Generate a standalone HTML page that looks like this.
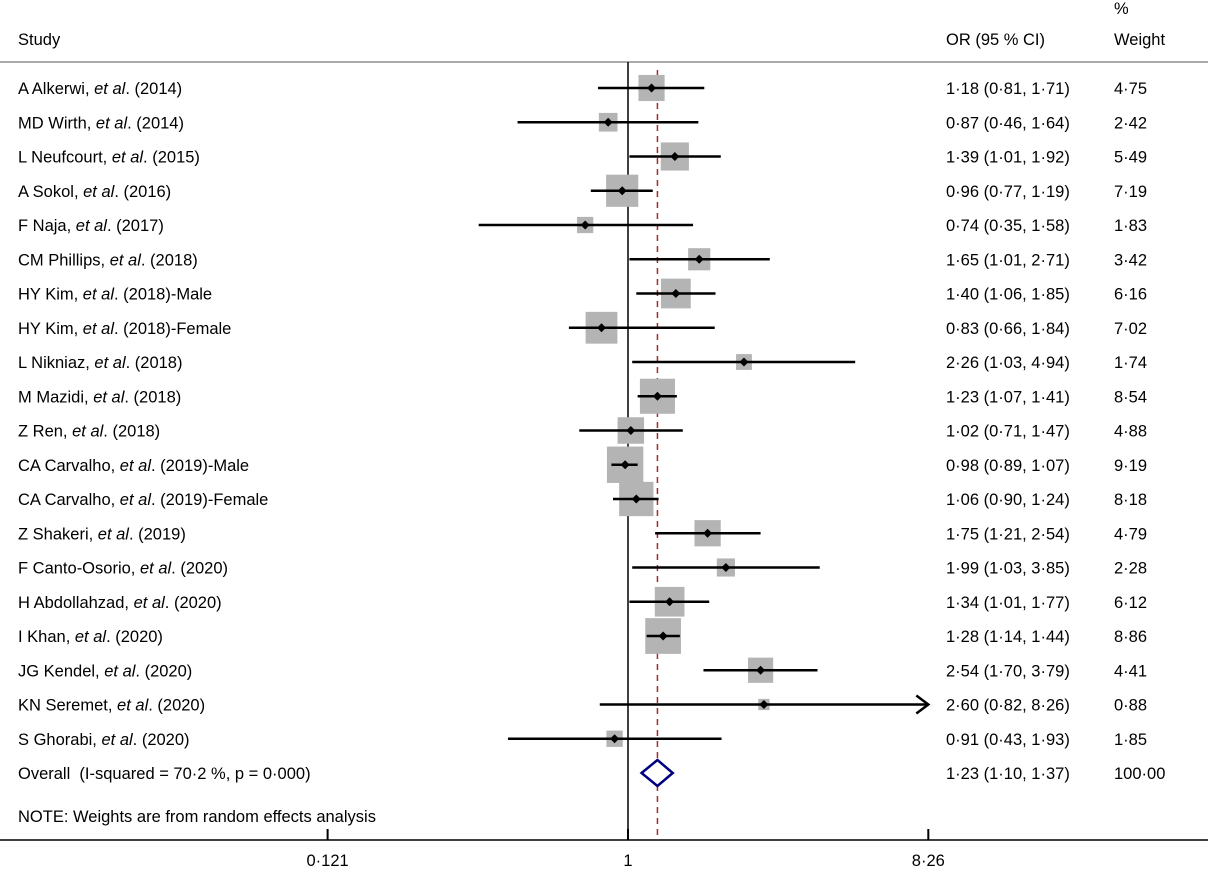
<!DOCTYPE html>
<html><head><meta charset="utf-8"><style>
body{margin:0;background:#fff;}
svg{display:block;font-family:"Liberation Sans",Arial,sans-serif;font-size:16.5px;}
</style></head><body>
<svg id="c" width="1208" height="870" xmlns="http://www.w3.org/2000/svg">
<text x="18" y="45">Study</text>
<text x="946" y="45">OR (95 % CI)</text>
<text x="1114" y="14">%</text>
<text x="1114" y="45">Weight</text>
<line x1="0" y1="62" x2="1208" y2="62" stroke="#aaa" stroke-width="2"/>
<line x1="0" y1="840" x2="1208" y2="840" stroke="#000" stroke-width="1.5"/>
<g id="marks"></g>
<text x="18" y="822">NOTE: Weights are from random effects analysis</text>
</svg>
<script>
const studies=["A Alkerwi","MD Wirth","L Neufcourt","A Sokol","F Naja","CM Phillips","HY Kim","HY Kim","L Nikniaz","M Mazidi","Z Ren","CA Carvalho","CA Carvalho","Z Shakeri","F Canto-Osorio","H Abdollahzad","I Khan","JG Kendel","KN Seremet","S Ghorabi"];
const suffix=[" (2014)"," (2014)"," (2015)"," (2016)"," (2017)"," (2018)"," (2018)-Male"," (2018)-Female"," (2018)"," (2018)"," (2018)"," (2019)-Male"," (2019)-Female"," (2019)"," (2020)"," (2020)"," (2020)"," (2020)"," (2020)"," (2020)"];
const orVals=[1.18,0.87,1.39,0.96,0.74,1.65,1.40,0.83,2.26,1.23,1.02,0.98,1.06,1.75,1.99,1.34,1.28,2.54,2.60,0.91];
const lowVals=[0.81,0.46,1.01,0.77,0.35,1.01,1.06,0.66,1.03,1.07,0.71,0.89,0.90,1.21,1.03,1.01,1.14,1.70,0.82,0.43];
const highVals=[1.71,1.64,1.92,1.19,1.58,2.71,1.85,1.84,4.94,1.41,1.47,1.07,1.24,2.54,3.85,1.77,1.44,3.79,8.26,1.93];
const weights=[4.75,2.42,5.49,7.19,1.83,3.42,6.16,7.02,1.74,8.54,4.88,9.19,8.18,4.79,2.28,6.12,8.86,4.41,0.88,1.85];
const pooled=[1.23,1.10,1.37];
const ticks=[0.121,1,8.26];
const tickLabels=["0·121","1","8·26"];
const NS="http://www.w3.org/2000/svg";
const g=document.getElementById('marks');
const X=v=>628+327.5*Math.log10(v);
const Y=i=>88+34.25*i;
const fmt=v=>v.toFixed(2).replace('.','·');
function mk(t,a){const e=document.createElementNS(NS,t);for(const k in a)e.setAttribute(k,a[k]);g.appendChild(e);return e;}
let e=mk('line',{x1:X(1),y1:62,x2:X(1),y2:840,stroke:'#000','stroke-width':1.5});


e=mk('line',{x1:X(pooled[0]),y1:70,x2:X(pooled[0]),y2:840,stroke:'#a52a2a','stroke-width':1.5,'stroke-dasharray':'6,5'});


const xmax=X(8.26);
studies.forEach((s,i)=>{
  const y=Y(i);
  const t=mk('text',{x:18,y:y+6});
  
  
  t.innerHTML=s+', <tspan font-style="italic">et al</tspan>.'+suffix[i];
  const side=12*Math.sqrt(weights[i]);
  const b=mk('rect',{x:X(orVals[i])-side/2,y:y-side/2,width:side,height:side,fill:'#b4b4b4'});
  
  
  const hi=Math.min(X(highVals[i]),xmax);
  const l=mk('line',{x1:X(lowVals[i]),y1:y,x2:hi,y2:y,stroke:'#000','stroke-width':2.4});
  
  
  if(X(highVals[i])>=xmax-0.5){
    const a=mk('polyline',{points:`${hi-12},${y-9} ${hi},${y} ${hi-12},${y+9}`,fill:'none',stroke:'#000','stroke-width':2.5});
    
    
  }
  const cx=X(orVals[i]);
  const d=mk('polygon',{points:`${cx-4.5},${y} ${cx},${y-4.5} ${cx+4.5},${y} ${cx},${y+4.5}`,fill:'#000'});
  
  
  const o=mk('text',{x:946,y:y+6});
  
  
  o.textContent=`${fmt(orVals[i])} (${fmt(lowVals[i])}, ${fmt(highVals[i])})`;
  const w=mk('text',{x:1114,y:y+6});
  
  
  w.textContent=fmt(weights[i]);
});
const yo=Y(20);
let t=mk('text',{x:18,y:yo+6});


t.textContent='Overall\u00a0 (I-squared = 70·2 %, p = 0·000)';
const dm=mk('polygon',{points:`${X(pooled[1])},${yo} ${X(pooled[0])},${yo-13} ${X(pooled[2])},${yo} ${X(pooled[0])},${yo+13}`,fill:'#fff',stroke:'#000080','stroke-width':2.5});


t=mk('text',{x:946,y:yo+6});


t.textContent=`${fmt(pooled[0])} (${fmt(pooled[1])}, ${fmt(pooled[2])})`;
t=mk('text',{x:1114,y:yo+6});


t.textContent='100·00';
ticks.forEach((v,i)=>{
  const k=mk('line',{x1:X(v),y1:829,x2:X(v),y2:840,stroke:'#000','stroke-width':2});
  
  
  const l=mk('text',{x:X(v),y:866,'text-anchor':'middle'});
  
  
  l.textContent=tickLabels[i];
});
</script>
</body></html>
